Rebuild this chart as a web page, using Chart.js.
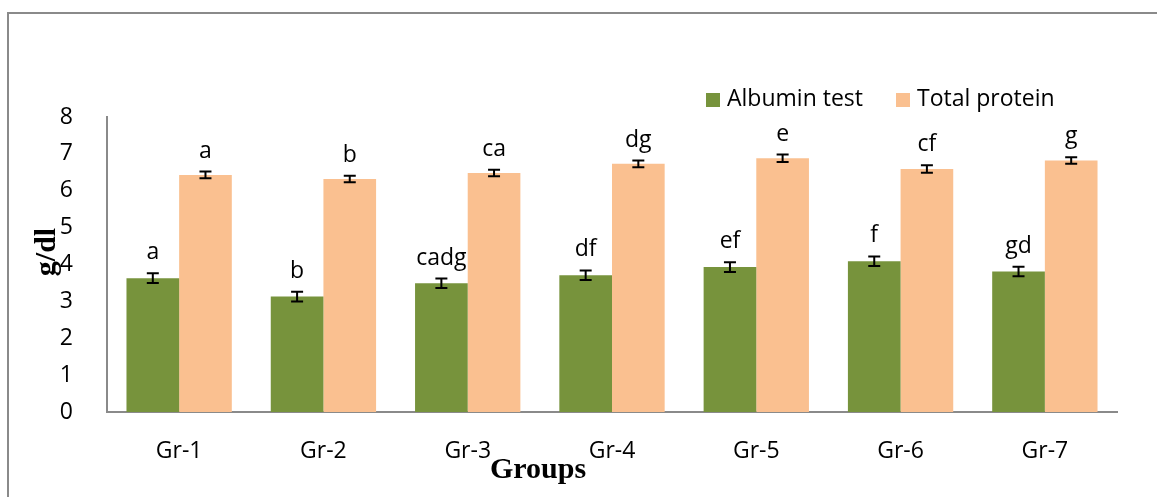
<!DOCTYPE html>
<html>
<head>
<meta charset="utf-8">
<script src="https://cdn.jsdelivr.net/npm/chart.js@4"></script>
<style>
  html, body { margin: 0; padding: 0; background: #fff; }
  #wrap { position: relative; width: 1157px; height: 497px; overflow: hidden; }
  #frame { position: absolute; left: 7px; top: 12px; width: 1200px; height: 600px;
           border-top: 2px solid #8a8a8a; border-left: 2px solid #8a8a8a; }
  canvas { position: absolute; left: 0; top: 0; }
</style>
</head>
<body>
<div id="wrap">
  <div id="frame"></div>
  <canvas id="chart" width="1157" height="497"></canvas>
</div>
<script>
const groups = ['Gr-1', 'Gr-2', 'Gr-3', 'Gr-4', 'Gr-5', 'Gr-6', 'Gr-7']
const albumin = [3.63, 3.13, 3.49, 3.71, 3.93, 4.09, 3.81]
const albuminErr = [0.13, 0.13, 0.13, 0.13, 0.13, 0.13, 0.13]
const albuminLetters = ['a', 'b', 'cadg', 'df', 'ef', 'f', 'gd']
const protein = [6.43, 6.32, 6.48, 6.73, 6.88, 6.59, 6.82]
const proteinErr = [0.09, 0.09, 0.09, 0.09, 0.1, 0.1, 0.09]
const proteinLetters = ['a', 'b', 'ca', 'dg', 'e', 'cf', 'g']
const yTicks = [0, 1, 2, 3, 4, 5, 6, 7, 8]

const FONT = '"Open Sans", sans-serif'
const GREEN = '#77933c'
const ORANGE = '#fac090'

// error bars + significance letters above each bar
const errorBars = {
  id: 'errorBars',
  afterDatasetsDraw (chart) {
    const ctx = chart.ctx
    const y = chart.scales.y
    ctx.save()
    chart.data.datasets.forEach((ds, di) => {
      const meta = chart.getDatasetMeta(di)
      meta.data.forEach((bar, i) => {
        const v = ds.data[i]
        const e = ds.errors[i]
        const top = y.getPixelForValue(v + e)
        const bot = y.getPixelForValue(v - e)
        ctx.strokeStyle = '#000'
        ctx.lineWidth = 2
        ctx.beginPath()
        ctx.moveTo(bar.x, top); ctx.lineTo(bar.x, bot)
        ctx.moveTo(bar.x - 6, top); ctx.lineTo(bar.x + 6, top)
        ctx.moveTo(bar.x - 6, bot); ctx.lineTo(bar.x + 6, bot)
        ctx.stroke()
        ctx.fillStyle = '#000'
        ctx.font = '23px ' + FONT
        ctx.textAlign = 'center'
        ctx.textBaseline = 'alphabetic'
        ctx.fillText(ds.letters[i], bar.x, top - 14)
      })
    })
    ctx.restore()
  }
}

// axis titles and legend, Excel style
const decorations = {
  id: 'decorations',
  afterDraw (chart) {
    const ctx = chart.ctx
    const a = chart.chartArea
    ctx.save()
    ctx.fillStyle = '#000'
    ctx.font = 'bold 30px "Liberation Serif", "Times New Roman", serif'
    ctx.textAlign = 'center'
    ctx.textBaseline = 'middle'
    ctx.fillText('Groups', (a.left + a.right) / 2 - 74, 470)
    ctx.translate(47, 252)
    ctx.rotate(-Math.PI / 2)
    ctx.fillText('g/dl', 0, 0)
    ctx.restore()

    ctx.save()
    ctx.font = '23px ' + FONT
    ctx.textBaseline = 'middle'
    ctx.textAlign = 'left'
    const items = [[706, GREEN, chart.data.datasets[0].label], [896, ORANGE, chart.data.datasets[1].label]]
    items.forEach(([x, c, t]) => {
      ctx.fillStyle = c
      ctx.fillRect(x, 93, 14, 14)
      ctx.fillStyle = '#000'
      ctx.fillText(t, x + 21, 99)
    })
    ctx.restore()
  }
}

new Chart(document.getElementById('chart'), {
  type: 'bar',
  data: {
    labels: groups,
    datasets: [
      { label: 'Albumin test', data: albumin, errors: albuminErr, letters: albuminLetters,
        backgroundColor: GREEN },
      { label: 'Total protein', data: protein, errors: proteinErr, letters: proteinLetters,
        backgroundColor: ORANGE }
    ]
  },
  options: {
    responsive: false,
    animation: false,
    devicePixelRatio: 1,
    layout: { padding: { left: 0, right: 40, top: 117, bottom: 0 } },
    datasets: { bar: { categoryPercentage: 0.73, barPercentage: 1 } },
    scales: {
      x: {
        grid: { display: false },
        border: { display: true, color: '#8a8a8a', width: 2 },
        ticks: { color: '#000', font: { family: FONT, size: 23 }, padding: 18, maxRotation: 0 },
        afterFit (s) { s.height = 85 }
      },
      y: {
        min: 0,
        max: 8,
        grid: { display: false },
        border: { display: true, color: '#8a8a8a', width: 2 },
        afterBuildTicks (s) { s.ticks = yTicks.map(v => ({ value: v })) },
        ticks: { color: '#000', font: { family: FONT, size: 23 }, padding: 26 },
        afterFit (s) { s.width = 107 }
      }
    },
    plugins: {
      legend: { display: false },
      tooltip: { enabled: false }
    }
  },
  plugins: [errorBars, decorations]
})
</script>
</body>
</html>
